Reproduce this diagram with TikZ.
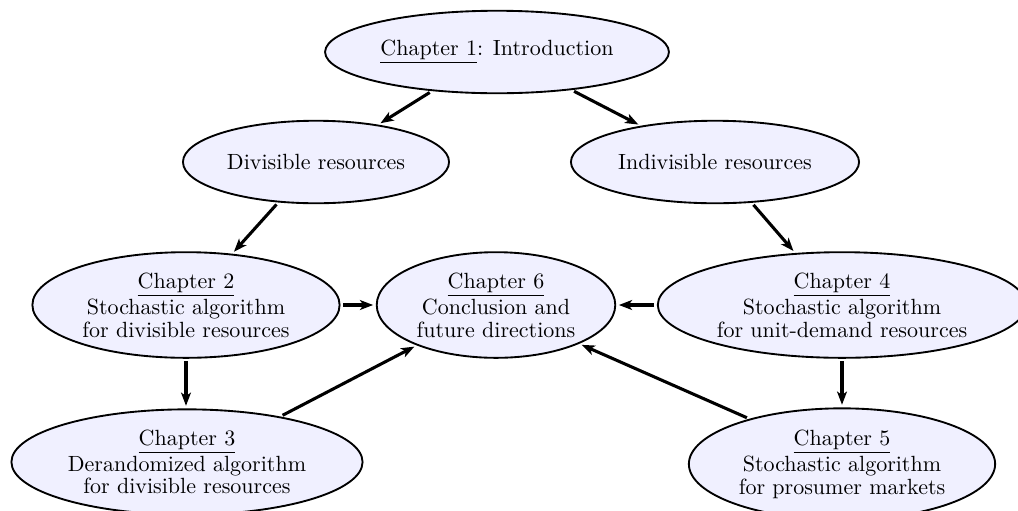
\documentclass[tikz,border=0pt]{standalone}
\usetikzlibrary{shapes.geometric,arrows.meta}
\begin{document}
\begin{tikzpicture}[x=0.4545pt,y=-0.4545pt,
  chap/.style={ellipse, draw=black, line width=0.85pt, fill=blue!6,
    inner sep=2.3pt, minimum height=37.5pt, align=center,
    font=\fontsize{10}{10.2}\selectfont},
  link/.style={line width=1.4pt,
    -{Stealth[length=6pt,width=4.5pt,inset=1.6pt]},
    shorten <=1.2pt, shorten >=1.2pt}]
\useasboundingbox (0,0) rectangle (1018,510);

% chapter overview nodes
\node[chap] (ch1) at (497,52) {\underline{Chapter 1}: Introduction};
\node[chap] (div) at (316,162) {Divisible resources};
\node[chap] (indiv) at (715,162) {Indivisible resources};
\node[chap] (ch2) at (186,305)
  {\underline{Chapter 2}\\Stochastic algorithm\\for divisible resources};
\node[chap] (ch6) at (496,305)
  {\underline{Chapter 6}\\Conclusion and\\future directions};
\node[chap] (ch4) at (842,305)
  {\underline{Chapter 4}\\Stochastic algorithm\\for unit-demand resources};
\node[chap] (ch3) at (187,462)
  {\underline{Chapter 3}\\Derandomized algorithm\\for divisible resources};
\node[chap] (ch5) at (842,464)
  {\underline{Chapter 5}\\Stochastic algorithm\\for prosumer markets};

% dependencies between chapters
\draw[link] (ch1.211.6) -- (div.31.4);
\draw[link] (ch1.333.1) -- (indiv.154.9);
\draw[link] (div.227.9) -- (ch2.48.5);
\draw[link] (indiv.312.1) -- (ch4.132.1);
\draw[link] (ch2.east) -- (ch6.west);
\draw[link] (ch4.west) -- (ch6.east);
\draw[link] (ch2.south) -- (ch2.south |- ch3.north);
\draw[link] (ch3.26.6) -- (ch6.207.8);
\draw[link] (ch5.north |- ch4.south) -- (ch5.north);
\draw[link] (ch5.154.9) -- (ch6.335.4);
\end{tikzpicture}
\end{document}
